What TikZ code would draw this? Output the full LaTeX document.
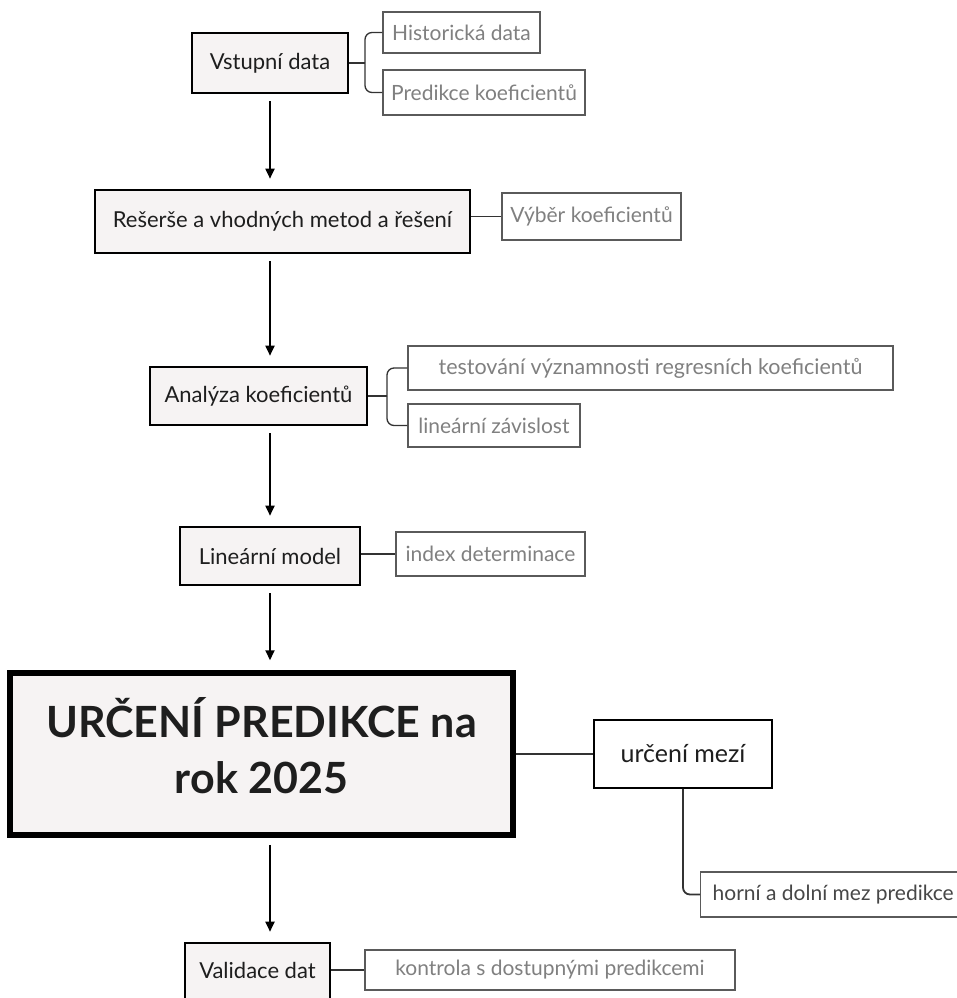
\documentclass[tikz,border=0pt]{standalone}
\usepackage{fontspec}
\setmainfont{Lato}
\usetikzlibrary{arrows.meta}
\definecolor{mainfill}{HTML}{F6F3F3}
\definecolor{subtext}{HTML}{808080}
\definecolor{subborder}{HTML}{5A5A5A}
\definecolor{maintext}{HTML}{1E1E1E}
\tikzset{
  mainbox/.style={draw=black, line width=2.6pt, fill=mainfill, text=maintext, inner sep=0pt, font=\fontsize{22}{26}\selectfont},
  bigbox/.style={draw=black, line width=5.5pt, fill=mainfill, text=maintext, inner sep=0pt, font=\fontsize{43}{56}\selectfont\bfseries},
  subbox/.style={draw=subborder, line width=1.4pt, fill=white, text=subtext, inner sep=0pt, font=\fontsize{21}{25}\selectfont},
  midbox/.style={draw=black, line width=1.8pt, fill=white, text=maintext, inner sep=0pt, font=\fontsize{25}{30}\selectfont},
  conn/.style={draw=black!80, line width=1.3pt, rounded corners=7pt},
  arr/.style={draw=black, line width=1.8pt, -{Triangle[length=10pt,width=9pt]}, shorten <=7pt, shorten >=10pt},
  sz/.style 2 args={minimum width=#1pt, minimum height=#2pt}
}
\begin{document}
\begin{tikzpicture}[x=1pt,y=-1pt]
\useasboundingbox[fill=white] (0,0) rectangle (957,998);

\node[mainbox, sz={156}{60}] (vs) at (270,63) {Vstupní data};
\node[subbox, sz={157}{41}] (hist) at (461.5,32.5) {Historická data};
\node[subbox, sz={202}{45}] (pred) at (484,92.5) {Predikce koeficientů};
\coordinate (j1) at (365,63);
\draw[conn] (vs.east) -- (j1);
\draw[conn] (hist.west) -| (j1);
\draw[conn] (pred.west) -| (j1);

\node[mainbox, sz={375}{63}] (rs) at (282.5,221.5) {Rešerše a vhodných metod a řešení};
\node[subbox, sz={179}{47}] (vyb) at (591.5,216.5) {Výběr koeficientů};
\draw[conn] (rs.east |- vyb.west) -- (vyb.west);

\node[mainbox, sz={217}{58}] (an) at (258.5,396) {Analýza koeficientů};
\node[subbox, sz={485}{44}, font=\fontsize{21.5}{25}\selectfont] (test) at (650.5,368) {testování významnosti regresních koeficientů};
\node[subbox, sz={172}{43}] (lz) at (494,425.5) {lineární závislost};
\coordinate (j2) at (387,396);
\draw[conn] (an.east) -- (j2);
\draw[conn] (test.west) -| (j2);
\draw[conn] (lz.west) -| (j2);

\node[mainbox, sz={180}{58}] (lm) at (270,556) {Lineární model};
\node[subbox, sz={189}{44}] (idx) at (490.5,554) {index determinace};
\draw[conn] (lm.east |- idx.west) -- (idx.west);

\node[bigbox, sz={503}{162}] (up) at (261.5,754) {\raisebox{6pt}{\begin{tabular}{@{}c@{}}URČENÍ PREDIKCE na\\rok 2025\end{tabular}}};
\node[midbox, sz={178}{68}] (mez) at (683,754) {určení mezí};
\draw[conn, line width=1.8pt] (up.east) -- (mez.west);
\node[subbox, minimum height=45pt, inner xsep=12pt, text=black!72, anchor=west] (hd) at (700,894.5) {horní a dolní mez predikce};
\draw[conn, line width=1.8pt] (mez.south) |- (hd.west);

\node[mainbox, sz={145}{64}] (val) at (257.5,975) {\raisebox{10pt}{Validace dat}};
\node[subbox, sz={370}{40}] (kon) at (550,970) {kontrola s dostupnými predikcemi};
\draw[conn] (val.east |- kon.west) -- (kon.west);

\draw[arr] (vs.south) -- (vs.south |- rs.north);
\draw[arr] (vs.south |- rs.south) -- (vs.south |- an.north);
\draw[arr] (vs.south |- an.south) -- (vs.south |- lm.north);
\draw[arr] (vs.south |- lm.south) -- (vs.south |- up.north);
\draw[arr] (vs.south |- up.south) -- (vs.south |- val.north);
\end{tikzpicture}
\end{document}
